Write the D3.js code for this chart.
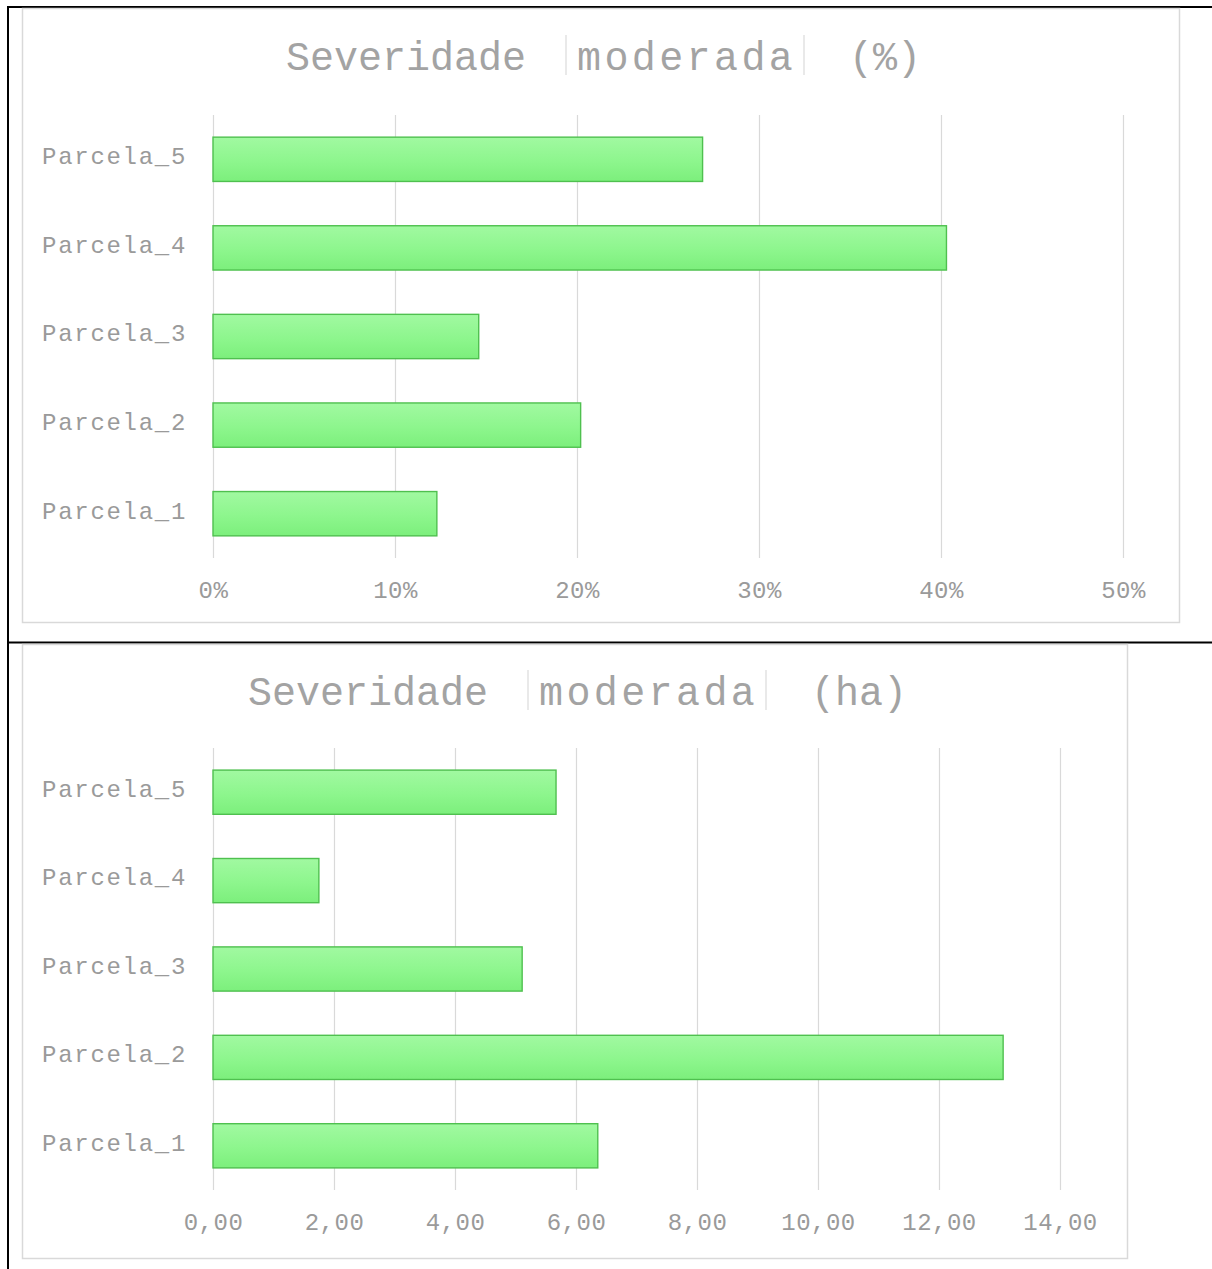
<!DOCTYPE html>
<html>
<head>
<meta charset="utf-8">
<script src="https://cdn.jsdelivr.net/npm/d3@7"></script>
<style>
  html, body { margin: 0; padding: 0; background: #fff; }
  svg { display: block; }
  text { font-family: "Liberation Mono", "Courier New", monospace; fill: #9a9a9a; }
</style>
</head>
<body>
<svg id="page" width="1212" height="1269"></svg>
<script>
// Parcel names, listed from bottom to top of each chart
const categories = ["Parcela_1", "Parcela_2", "Parcela_3", "Parcela_4", "Parcela_5"];

// Moderate severity, share of parcel area (%)
const pctValues = [12.3, 20.2, 14.6, 40.3, 26.9];
const pctTicks = [0, 10, 20, 30, 40, 50];

// Moderate severity, area in hectares
const haValues = [6.36, 13.06, 5.11, 1.75, 5.67];
const haTicks = [0, 2, 4, 6, 8, 10, 12, 14];

const ptBR = d3.formatLocale({ decimal: ",", thousands: ".", grouping: [3], currency: ["", ""] });
const fmtHa = ptBR.format(".2f");
const fmtPct = d => d + "%";

const svg = d3.select("#page");

// Bar fill: soft vertical gradient
const defs = svg.append("defs");
const grad = defs.append("linearGradient").attr("id", "barFill")
  .attr("x1", 0).attr("y1", 0).attr("x2", 0).attr("y2", 1);
grad.append("stop").attr("offset", "0%").attr("stop-color", "#a1f9a1");
grad.append("stop").attr("offset", "55%").attr("stop-color", "#8df68d");
grad.append("stop").attr("offset", "100%").attr("stop-color", "#7cef7c");

// Table rules around the two charts
const rules = svg.append("g").attr("stroke", "#000").attr("stroke-width", 2);
rules.append("line").attr("x1", 7).attr("x2", 1212).attr("y1", 7).attr("y2", 7);
rules.append("line").attr("x1", 8).attr("x2", 8).attr("y1", 6).attr("y2", 1269);
rules.append("line").attr("x1", 8).attr("x2", 1212).attr("y1", 642.5).attr("y2", 642.5);

function drawTitle(g, cx, baseY, unit) {
  // pieces laid out left to right: word, thin divider, word, thin divider, unit
  const totalW = 563 + unit.length * 24;
  const x0 = cx - totalW / 2 + 3;
  const t = g.append("g").attr("font-size", 40);
  t.append("text").attr("x", x0).attr("y", baseY).attr("fill", "#a3a3a3")
    .style("fill", "#a3a3a3").text("Severidade");
  t.append("text").attr("x", x0 + 291).attr("y", baseY)
    .style("fill", "#a3a3a3").style("letter-spacing", "3.4px").text("moderada");
  t.append("text").attr("x", x0 + 563).attr("y", baseY)
    .style("fill", "#a3a3a3").text(unit);
  [280, 518].forEach(dx => {
    t.append("line")
      .attr("x1", x0 + dx).attr("x2", x0 + dx)
      .attr("y1", baseY - 35).attr("y2", baseY + 5)
      .attr("stroke", "#e2e2e2").attr("stroke-width", 1.5);
  });
}

function drawChart(cfg) {
  const g = svg.append("g");

  // chart area frame
  g.append("rect")
    .attr("x", cfg.frame[0] + 0.5).attr("y", cfg.frame[1] + 0.5)
    .attr("width", cfg.frame[2] - cfg.frame[0]).attr("height", cfg.frame[3] - cfg.frame[1])
    .attr("fill", "#fff").attr("stroke", "#d9d9d9").attr("stroke-width", 1.5);

  drawTitle(g, (cfg.frame[0] + cfg.frame[2]) / 2, cfg.titleY, cfg.unit);

  const x = d3.scaleLinear().domain([0, d3.max(cfg.ticks)]).range([cfg.x0, cfg.x1]);
  const y = d3.scaleBand().domain(categories.slice().reverse())
    .range([cfg.top, cfg.bottom]).paddingInner(0.5).paddingOuter(0.25);

  // vertical gridlines and tick labels
  const axis = d3.axisBottom(x)
    .tickValues(cfg.ticks)
    .tickSize(-(cfg.bottom - cfg.top))
    .tickFormat(cfg.format);
  const ax = g.append("g").attr("transform", `translate(0,${cfg.bottom})`).call(axis);
  ax.select(".domain").remove();
  ax.selectAll(".tick line").attr("stroke", "#d9d9d9").attr("stroke-width", 1.2);
  ax.selectAll(".tick text")
    .attr("y", 40).attr("dy", 0)
    .attr("font-size", 24)
    .attr("font-family", "Liberation Mono, Courier New, monospace")
    .attr("fill", "#a6a6a6")
    .style("letter-spacing", "0.5px");

  // bars
  const rows = categories.map((c, i) => ({ cat: c, val: cfg.values[i] }));
  g.append("g").selectAll("rect").data(rows).join("rect")
    .attr("x", x(0))
    .attr("y", d => y(d.cat))
    .attr("width", d => x(d.val) - x(0))
    .attr("height", y.bandwidth())
    .attr("fill", "url(#barFill)")
    .attr("stroke", "#4fc04f")
    .attr("stroke-width", 1.4);

  // category labels
  g.append("g").selectAll("text").data(rows).join("text")
    .attr("x", cfg.x0 - 26)
    .attr("y", d => y(d.cat) + y.bandwidth() / 2)
    .attr("dy", "0.2em")
    .attr("text-anchor", "end")
    .attr("font-size", 24)
    .style("fill", "#9a9a9a")
    .style("letter-spacing", "1.7px")
    .text(d => d.cat);
}

drawChart({
  frame: [22, 8, 1179, 622],
  titleY: 70,
  unit: "(%)",
  x0: 213, x1: 1123,
  top: 115, bottom: 558,
  values: pctValues,
  ticks: pctTicks,
  format: fmtPct
});

drawChart({
  frame: [22, 644, 1127, 1258],
  titleY: 705,
  unit: "(ha)",
  x0: 213, x1: 1060,
  top: 748, bottom: 1190,
  values: haValues,
  ticks: haTicks,
  format: fmtHa
});
</script>
</body>
</html>
